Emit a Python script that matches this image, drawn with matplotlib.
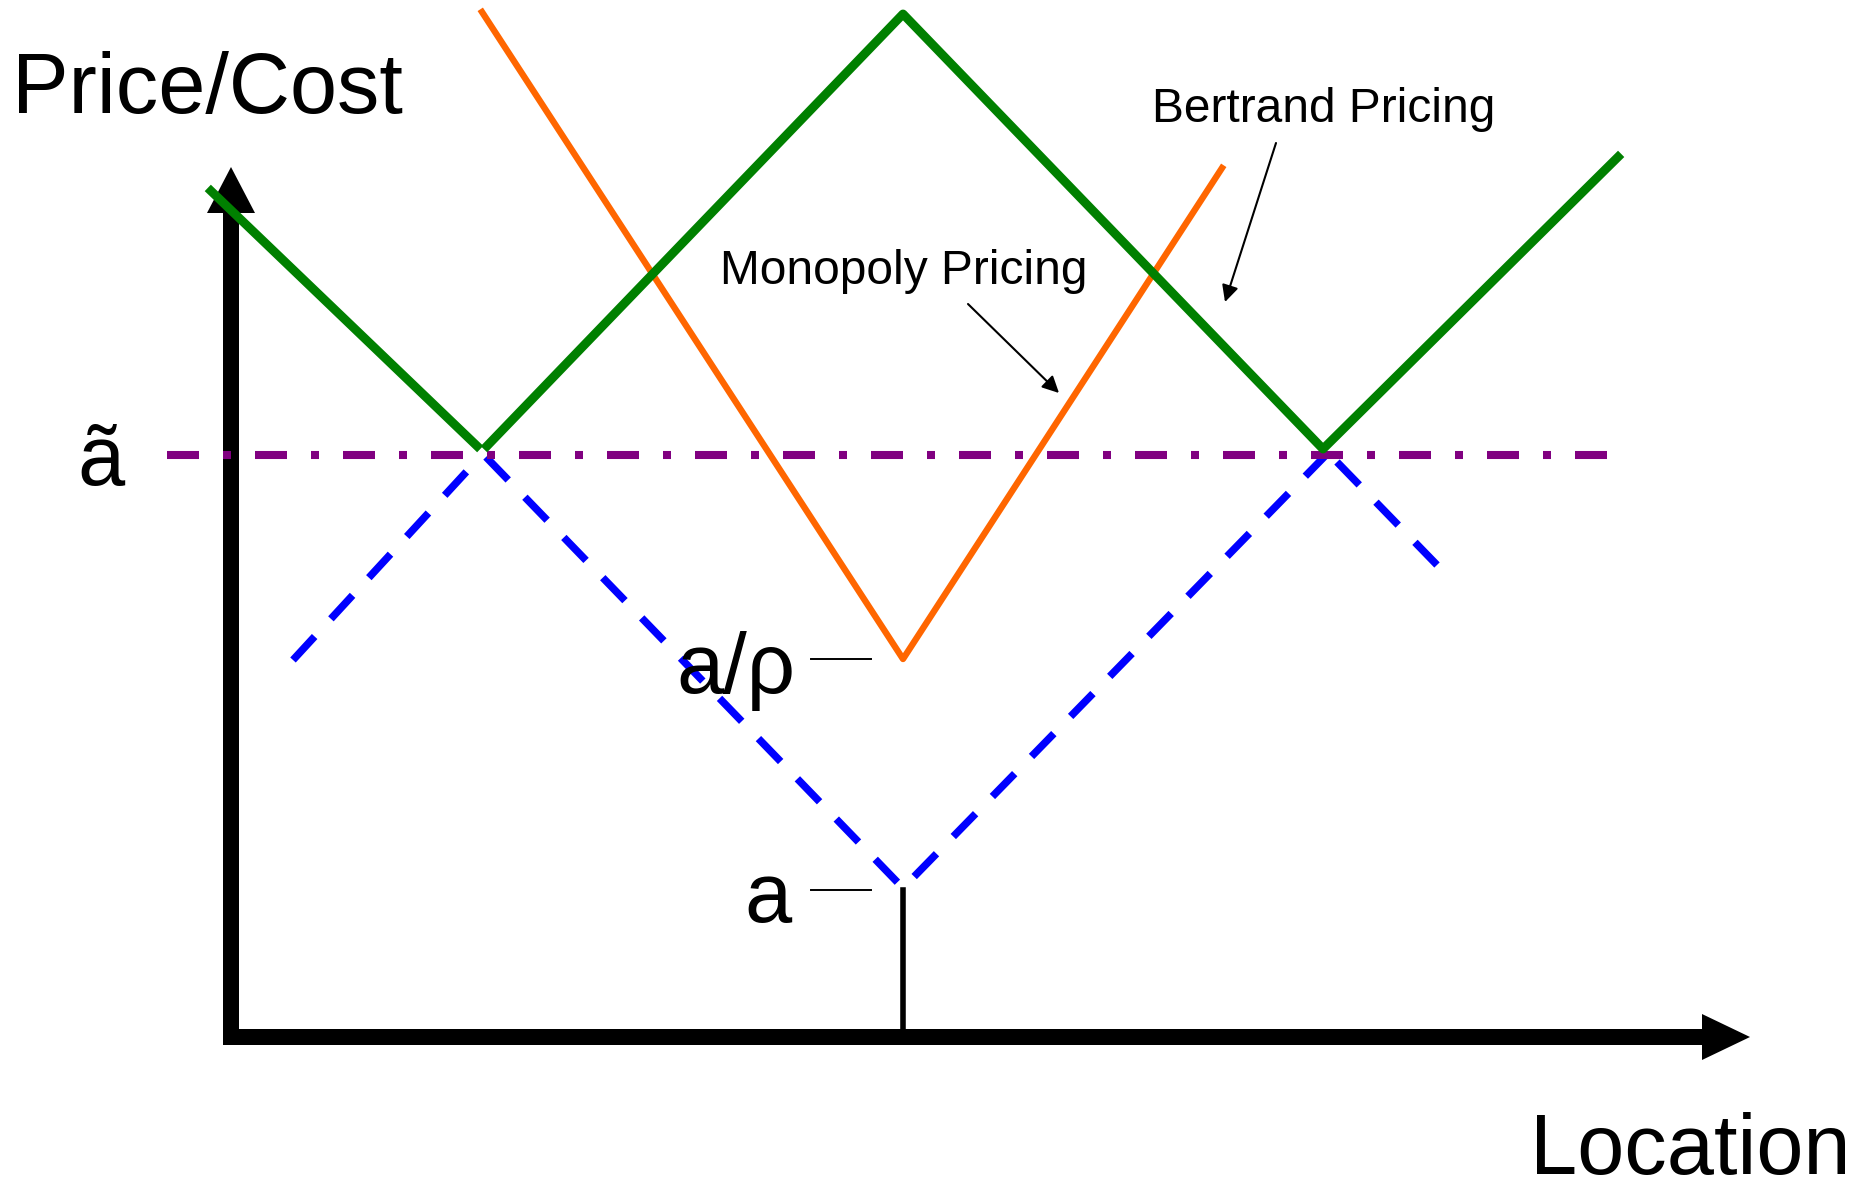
import matplotlib
matplotlib.use('Agg')
import matplotlib.pyplot as plt

plt.rcParams['font.family'] = ['Liberation Sans', 'DejaVu Sans']
plt.rcParams['lines.scale_dashes'] = False

# ── DATA (location, price) relative to the axes origin ───────────────────────
bertrand_left_x  = [-20, 246]
bertrand_left_y  = [846, 591]
bertrand_x       = [256, 672, 1092, 1387]
bertrand_y       = [591, 1023, 588, 880]

monopoly_x = [251, 672, 991]
monopoly_y = [1025, 378, 869]

cost_left_x  = [62, 249]
cost_left_y  = [377, 580]
cost_mid_x   = [255, 672, 1095]
cost_mid_y   = [580, 149, 582]
cost_right_x = [1106, 1206]
cost_right_y = [575, 472]

a_tilde      = 582
a_tilde_span = [-64, 1376]
firm_loc     = 672
a_level      = 147
a_rho_level  = 378
tick_span    = [580, 640]

y_axis_top   = 870
x_axis_right = 1519

# ── PLOT ──────────────────────────────────────────────────────────────────────
fig = plt.figure(figsize=(18.7, 11.92), dpi=100)
ax = fig.add_axes([0, 0, 1, 1])
ax.set_xlim(-231, 1639)
ax.set_ylim(-155, 1037)
ax.axis('off')

# axes arrows
ax.arrow(0, -8, 0, y_axis_top + 8, width=16, head_width=48, head_length=46,
         length_includes_head=True, color='black', lw=0)
ax.arrow(0, 0, x_axis_right, 0, width=16, head_width=46, head_length=48,
         length_includes_head=True, color='black', lw=0)

# firm location marker
ax.plot([firm_loc, firm_loc], [0, a_level], color='black', lw=4)

# cost curves (blue dashed)
for xs, ys in [(cost_left_x, cost_left_y), (cost_mid_x, cost_mid_y),
               (cost_right_x, cost_right_y)]:
    ax.plot(xs, ys, color='#0000FF', lw=5.4, linestyle=(0, (23, 17.3)))

# a-tilde level (purple dash-dot)
ax.plot(a_tilde_span, [a_tilde, a_tilde], color='#800080', lw=5.8,
        linestyle=(0, (23.04, 17.28, 5.76, 17.28)))

# monopoly pricing (orange)
ax.plot(monopoly_x, monopoly_y, color='#FF6600', lw=4.6)

# bertrand pricing (green)
ax.plot(bertrand_left_x, bertrand_left_y, color='#008000', lw=6.4)
ax.plot(bertrand_x, bertrand_y, color='#008000', lw=6.4)

# level ticks
ax.plot(tick_span, [a_rho_level, a_rho_level], color='black', lw=1.4)
ax.plot(tick_span, [a_level, a_level], color='black', lw=1.4)

# labels
big = 61
small = 34.5
ax.text(-219, 924, 'Price/Cost', fontsize=big, ha='left', va='baseline')
ax.text(1299, -137, 'Location', fontsize=big, ha='left', va='baseline')
ax.text(-154, 552, 'ã', fontsize=big, ha='left', va='baseline')
ax.text(445, 344, 'a/ρ', fontsize=big, ha='left', va='baseline')
ax.text(513, 115, 'a', fontsize=big, ha='left', va='baseline')
ax.text(921, 915, 'Bertrand Pricing', fontsize=small, ha='left', va='baseline')
ax.text(489, 753, 'Monopoly Pricing', fontsize=small, ha='left', va='baseline')

# pointer arrows
arrow_kw = dict(arrowstyle='-|>', lw=1.5, color='black', mutation_scale=25,
                shrinkA=0, shrinkB=0)
ax.annotate('', xy=(994, 735), xytext=(1045, 894), arrowprops=arrow_kw)
ax.annotate('', xy=(828, 644), xytext=(737, 733), arrowprops=arrow_kw)

plt.savefig('out.png', dpi=100)
plt.close()
